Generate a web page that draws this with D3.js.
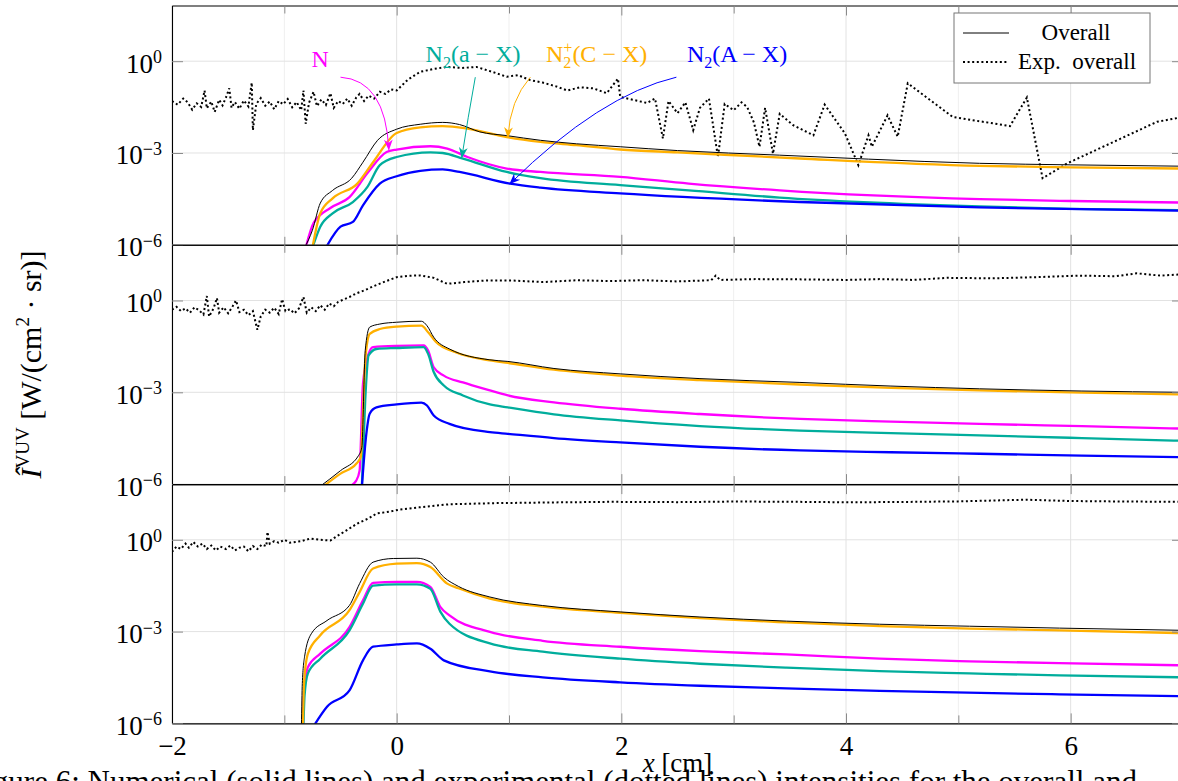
<!DOCTYPE html>
<html>
<head>
<meta charset="utf-8">
<script src="https://cdn.jsdelivr.net/npm/d3@7"></script>
<style>
  body { margin: 0; background: #fff; }
  svg { display: block; font-family: "Liberation Serif", "DejaVu Serif", serif; }
</style>
</head>
<body>
<script>
// ---- axes ----
var xTicks = [-2, -1, 0, 1, 2, 3, 4, 5, 6, 7];
var xLabelled = [-2, 0, 2, 4, 6];
var yTicks = [1e-6, 1e-3, 1];

// ---- top panel: [x (cm), intensity] ----
var topOverall = [[-0.82,8e-7],[-0.75,3.0e-6],[-0.68,2.3e-5],[-0.57,6.0e-5],[-0.40,1.5e-4],[-0.30,5.0e-4],[-0.17,2.6e-3],[0.0,6.0e-3],[0.21,8.7e-3],[0.41,1.0e-2],[0.56,8.5e-3],[0.74,4.9e-3],[0.98,3.7e-3],[1.28,2.6e-3],[1.6,2.0e-3],[1.99,1.6e-3],[2.5,1.2e-3],[3.41,8.5e-4],[4.2,6.3e-4],[5.19,4.6e-4],[6.0,4.1e-4],[7.0,3.7e-4]];
var topN2pC = [[-0.75,8e-7],[-0.68,1.07e-5],[-0.57,3.3e-5],[-0.35,1.0e-4],[-0.21,5.0e-4],[0.0,4.5e-3],[0.21,6.9e-3],[0.41,7.6e-3],[0.63,6.3e-3],[0.98,3.3e-3],[1.28,2.3e-3],[1.6,1.8e-3],[1.99,1.3e-3],[2.5,1.05e-3],[3.59,6.6e-4],[5.19,3.8e-4],[6.0,3.4e-4],[7.0,3.1e-4]];
var topN = [[-0.81,8e-7],[-0.74,5.1e-6],[-0.59,1.6e-5],[-0.42,3.6e-5],[-0.26,2.2e-4],[-0.09,1.07e-3],[0.0,1.3e-3],[0.30,1.66e-3],[0.45,1.4e-3],[0.63,7.4e-4],[0.98,3.1e-4],[1.28,2.4e-4],[1.99,1.66e-4],[2.6,1.0e-4],[3.41,6.0e-5],[5.19,3.1e-5],[6.0,2.7e-5],[7.0,2.4e-5]];
var topN2a = [[-0.75,8e-7],[-0.68,3.9e-6],[-0.57,1.07e-5],[-0.39,2.5e-5],[-0.26,7.8e-5],[-0.15,4.0e-4],[0.0,7.4e-4],[0.30,1.05e-3],[0.41,1.0e-3],[0.59,6.6e-4],[0.98,2.4e-4],[1.28,1.5e-4],[1.99,8.9e-5],[2.6,6.0e-5],[3.41,3.5e-5],[5.19,1.8e-5],[6.0,1.5e-5],[7.0,1.35e-5]];
var topN2A = [[-0.63,8e-7],[-0.50,3.9e-6],[-0.39,5.6e-6],[-0.30,1.95e-5],[-0.15,1.0e-4],[0.0,1.74e-4],[0.21,2.6e-4],[0.41,2.9e-4],[0.56,2.4e-4],[1.01,1.0e-4],[1.28,7.4e-5],[1.99,4.8e-5],[3.59,2.5e-5],[5.19,1.66e-5],[7.0,1.3e-5]];
var topExp = [[-2.00,5.0e-2],[-1.95,3.8e-2],[-1.90,6.0e-2],[-1.86,4.5e-2],[-1.82,2.6e-2],[-1.78,4.2e-2],[-1.74,3.2e-2],[-1.71,0.11],[-1.69,2.9e-2],[-1.65,4.8e-2],[-1.62,2.2e-2],[-1.58,5.5e-2],[-1.55,3.6e-2],[-1.52,6.5e-2],[-1.49,0.13],[-1.47,3.0e-2],[-1.44,4.6e-2],[-1.40,2.8e-2],[-1.36,5.2e-2],[-1.32,3.3e-2],[-1.29,0.2],[-1.28,5.6e-3],[-1.25,4.0e-2],[-1.21,6.2e-2],[-1.17,3.5e-2],[-1.13,4.8e-2],[-1.09,2.7e-2],[-1.05,5.0e-2],[-1.01,3.9e-2],[-0.97,5.8e-2],[-0.93,3.1e-2],[-0.89,4.6e-2],[-0.85,2.5e-2],[-0.83,0.11],[-0.81,9.0e-3],[-0.78,4.4e-2],[-0.74,0.1],[-0.71,3.4e-2],[-0.67,5.6e-2],[-0.63,3.7e-2],[-0.59,0.09],[-0.56,3.0e-2],[-0.52,5.0e-2],[-0.48,4.0e-2],[-0.44,6.0e-2],[-0.40,3.5e-2],[-0.36,6.5e-2],[-0.33,8.5e-2],[-0.29,5.0e-2],[-0.25,7.5e-2],[-0.20,6.0e-2],[-0.15,0.1],[-0.10,0.085],[-0.05,0.12],[0.00,0.11],[0.10,0.25],[0.21,0.45],[0.32,0.55],[0.45,0.65],[0.58,0.6],[0.71,0.65],[0.85,0.45],[0.98,0.31],[1.08,0.35],[1.19,0.24],[1.30,0.2],[1.42,0.15],[1.52,0.11],[1.63,0.14],[1.75,0.13],[1.87,0.09],[1.97,0.27],[1.99,0.068],[2.10,0.055],[2.23,0.043],[2.30,0.06],[2.37,3.0e-3],[2.42,0.05],[2.50,0.02],[2.57,0.045],[2.64,5.6e-3],[2.70,0.03],[2.78,0.06],[2.86,7.4e-4],[2.92,0.04],[3.00,0.025],[3.07,0.045],[3.12,0.032],[3.18,0.01],[3.23,1.6e-3],[3.28,0.03],[3.35,9.5e-4],[3.41,0.019],[3.53,8.1e-3],[3.71,3.8e-3],[3.81,0.038],[3.99,4.4e-3],[4.11,4.0e-4],[4.20,3.8e-3],[4.23,1.6e-3],[4.37,0.017],[4.46,3.4e-3],[4.55,0.19],[4.95,0.015],[5.46,7.6e-3],[5.61,0.065],[5.75,1.5e-4],[5.97,4.6e-4],[6.77,0.0105],[7.00,0.015]];

// ---- middle panel ----
var midOverall = [[-0.69,8e-7],[-0.50,2.75e-6],[-0.34,8.5e-6],[-0.31,1.6e-5],[-0.28,2.3e-2],[-0.24,0.135],[-0.15,0.17],[0.0,0.195],[0.22,0.21],[0.27,0.15],[0.33,0.063],[0.47,0.026],[0.83,0.0115],[0.99,0.0102],[1.4,6.0e-3],[1.99,4.0e-3],[2.7,2.8e-3],[3.59,2.1e-3],[4.4,1.6e-3],[5.19,1.3e-3],[6.1,1.1e-3],[7.0,1.0e-3]];
var midN2pC = [[-0.66,8e-7],[-0.50,2.2e-6],[-0.36,4.6e-6],[-0.32,7.6e-6],[-0.28,0.011],[-0.24,0.081],[-0.15,0.117],[0.0,0.14],[0.22,0.15],[0.28,0.091],[0.35,0.044],[0.53,0.020],[0.83,0.011],[0.99,9.1e-3],[1.4,5.5e-3],[1.99,3.5e-3],[2.7,2.5e-3],[3.59,1.8e-3],[4.4,1.4e-3],[5.19,1.15e-3],[6.1,9.8e-4],[7.0,8.5e-4]];
var midN = [[-0.43,8e-7],[-0.36,1.3e-6],[-0.33,2.75e-6],[-0.30,1.9e-3],[-0.25,0.018],[-0.21,0.030],[0.0,0.033],[0.24,0.034],[0.28,0.023],[0.33,6.6e-3],[0.42,3.5e-3],[0.59,2.1e-3],[0.83,1.15e-3],[0.99,7.9e-4],[1.4,4.7e-4],[1.99,2.9e-4],[2.7,1.95e-4],[3.59,1.35e-4],[4.4,1.1e-4],[5.19,9.3e-5],[6.1,7.8e-5],[7.0,6.5e-5]];
var midN2a = [[-0.31,8e-7],[-0.28,5.4e-4],[-0.25,0.016],[-0.18,0.026],[0.0,0.028],[0.24,0.030],[0.28,0.018],[0.33,4.6e-3],[0.42,1.66e-3],[0.59,7.9e-4],[0.83,4.0e-4],[0.99,3.2e-4],[1.4,1.9e-4],[1.99,1.2e-4],[2.7,7.9e-5],[3.59,5.6e-5],[4.4,4.6e-5],[5.19,3.9e-5],[6.1,3.2e-5],[7.0,2.6e-5]];
var midN2A = [[-0.31,8e-7],[-0.27,4.4e-5],[-0.24,2.0e-4],[-0.18,3.2e-4],[0.0,4.0e-4],[0.22,4.6e-4],[0.27,3.7e-4],[0.33,1.74e-4],[0.47,9.3e-5],[0.83,5.0e-5],[0.99,4.4e-5],[1.4,3.2e-5],[1.99,2.3e-5],[2.7,1.66e-5],[3.59,1.26e-5],[4.4,1.1e-5],[5.19,9.8e-6],[6.1,8.5e-6],[7.0,7.6e-6]];
var midExp = [[-2.00,0.5],[-1.96,0.62],[-1.92,0.45],[-1.88,0.55],[-1.84,0.4],[-1.80,0.6],[-1.76,0.48],[-1.72,0.35],[-1.69,1.4],[-1.67,0.3],[-1.63,0.55],[-1.60,1.2],[-1.58,0.4],[-1.54,0.6],[-1.50,0.38],[-1.46,0.65],[-1.43,1.0],[-1.40,0.42],[-1.36,0.5],[-1.32,0.33],[-1.28,0.45],[-1.24,0.11],[-1.21,0.3],[-1.17,0.5],[-1.13,0.4],[-1.09,0.58],[-1.05,0.36],[-1.02,1.1],[-0.99,0.45],[-0.95,0.52],[-0.91,0.38],[-0.87,0.55],[-0.83,1.3],[-0.80,0.4],[-0.76,0.6],[-0.72,0.45],[-0.68,0.7],[-0.64,0.5],[-0.60,0.8],[-0.56,0.65],[-0.52,0.9],[-0.48,1.05],[-0.42,1.3],[-0.36,1.7],[-0.28,2.2],[-0.20,3.0],[-0.10,4.2],[0.00,5.8],[0.10,6.4],[0.21,6.6],[0.33,5.5],[0.45,3.5],[0.60,4.0],[0.80,4.5],[1.03,4.5],[1.30,4.0],[1.60,4.6],[1.90,4.3],[2.20,4.6],[2.50,4.2],[2.80,4.6],[2.84,6.5],[2.88,4.7],[3.20,5.0],[3.59,4.9],[4.00,4.7],[4.30,5.0],[4.60,4.7],[4.90,5.5],[5.30,5.3],[5.70,5.8],[6.08,6.5],[6.40,6.2],[6.59,7.7],[6.80,6.5],[7.00,7.2]];

// ---- bottom panel ----
var botOverall = [[-0.848,8e-7],[-0.84,2.0e-5],[-0.82,1.5e-4],[-0.76,8.5e-4],[-0.62,2.3e-3],[-0.42,7.2e-3],[-0.33,0.037],[-0.21,0.186],[-0.03,0.245],[0.18,0.25],[0.30,0.186],[0.42,0.060],[0.55,0.030],[0.83,0.0135],[1.3,7.1e-3],[1.99,4.4e-3],[2.7,3.0e-3],[3.47,2.2e-3],[4.30,1.74e-3],[5.1,1.5e-3],[5.90,1.3e-3],[7.0,1.1e-3]];
var botN2pC = [[-0.835,8e-7],[-0.825,2.0e-5],[-0.79,1.9e-4],[-0.68,7.6e-4],[-0.42,5.0e-3],[-0.33,0.0195],[-0.21,0.115],[0.0,0.166],[0.18,0.174],[0.30,0.129],[0.45,0.037],[0.55,0.026],[0.83,0.012],[1.3,6.5e-3],[1.99,4.1e-3],[2.7,2.75e-3],[3.47,2.0e-3],[4.30,1.5e-3],[5.1,1.26e-3],[5.90,1.1e-3],[7.0,8.9e-4]];
var botN = [[-0.835,8e-7],[-0.825,1.0e-5],[-0.79,6.9e-5],[-0.68,1.9e-4],[-0.42,1.4e-3],[-0.30,0.0105],[-0.21,0.039],[0.0,0.042],[0.18,0.042],[0.30,0.029],[0.39,6.3e-3],[0.47,3.4e-3],[0.83,9.8e-4],[1.3,5.0e-4],[1.99,3.2e-4],[2.7,2.3e-4],[3.47,1.8e-4],[4.30,1.3e-4],[5.1,1.07e-4],[5.90,9.3e-5],[7.0,7.9e-5]];
var botN2a = [[-0.83,8e-7],[-0.82,8e-6],[-0.79,4.3e-5],[-0.68,1.3e-4],[-0.42,1.1e-3],[-0.30,8.1e-3],[-0.21,0.032],[0.0,0.035],[0.18,0.035],[0.30,0.025],[0.39,4.4e-3],[0.47,1.8e-3],[0.83,4.1e-4],[1.3,2.2e-4],[1.99,1.3e-4],[2.7,8.9e-5],[3.47,6.6e-5],[4.30,5.1e-5],[5.1,4.3e-5],[5.90,3.7e-5],[7.0,3.2e-5]];
var botN2A = [[-0.74,8e-7],[-0.62,3.5e-6],[-0.42,1.2e-5],[-0.30,1.15e-4],[-0.21,3.2e-4],[0.0,3.8e-4],[0.18,4.1e-4],[0.30,2.75e-4],[0.42,1.15e-4],[0.83,5.0e-5],[1.3,3.2e-5],[1.99,2.2e-5],[2.7,1.7e-5],[3.47,1.4e-5],[4.30,1.15e-5],[5.90,8.9e-6],[7.0,7.8e-6]];
var botExp = [[-2.00,0.4],[-1.96,0.6],[-1.92,0.5],[-1.88,0.75],[-1.85,0.55],[-1.81,0.85],[-1.77,0.6],[-1.73,0.75],[-1.69,0.5],[-1.65,0.65],[-1.61,0.45],[-1.57,0.6],[-1.52,0.5],[-1.48,0.65],[-1.44,0.45],[-1.40,0.55],[-1.36,0.6],[-1.32,0.42],[-1.28,0.62],[-1.24,0.5],[-1.20,0.7],[-1.16,0.62],[-1.15,1.8],[-1.13,0.75],[-1.09,0.9],[-1.05,0.8],[-1.00,1.0],[-0.95,0.8],[-0.90,0.85],[-0.85,0.9],[-0.77,1.1],[-0.68,1.0],[-0.59,0.95],[-0.52,1.4],[-0.45,2.0],[-0.35,3.4],[-0.25,5.0],[-0.18,7.2],[-0.05,8.5],[0.03,9.8],[0.20,11.5],[0.47,14.5],[0.89,15.8],[1.3,16.5],[1.9,17.4],[2.5,17.0],[3.0,17.8],[3.5,17.5],[4.0,16.8],[4.5,17.2],[5.0,18.0],[5.6,20.4],[6.0,18.5],[6.5,17.8],[7.0,17.4]];

var seriesNames = ["N", "N2(a-X)", "N2(A-X)", "N2+(C-X)", "Overall"];
var seriesColors = ["#ff00ff", "#00ad9c", "#0000ff", "#ffb000", "#000000"];
var seriesWidths = [2.3, 2.3, 2.3, 2.3, 1];

var panels = [
  {sim: [topN, topN2a, topN2A, topN2pC, topOverall], exp: topExp},
  {sim: [midN, midN2a, midN2A, midN2pC, midOverall], exp: midExp},
  {sim: [botN, botN2a, botN2A, botN2pC, botOverall], exp: botExp}
];

// annotations on the top panel: label anchor, arrow start, control, end
var annotations = [
  {color: "#ff00ff", label: [["N", ""]], at: [-0.68, 0.63], path: [[-0.50, 0.30], [-0.10, 0.24], [-0.07, 1.3e-3]]},
  {color: "#00ad9c", label: [["N", ""], ["2", "sub"], ["(a \u2212 X)", ""]], at: [0.68, 0.93], path: [[0.70, 0.30], [0.635, 0.0148], [0.58, 7.2e-4]]},
  {color: "#ffb000", label: [["N", ""], ["2", "sub"], ["+", "sup"], ["(C \u2212 X)", ""]], at: [1.78, 0.93], path: [[1.19, 0.30], [1.01, 0.054], [0.99, 3.3e-3]]},
  {color: "#0000ff", label: [["N", ""], ["2", "sub"], ["(A \u2212 X)", ""]], at: [3.03, 0.93], path: [[2.49, 0.30], [1.81, 0.078], [1.01, 1.0e-4]]}
];

var W = 1178, H = 781;
var left = 172, right = 1183, panelH = 239.3;
var tops = [5.5, 244.8, 484.1];

var svg = d3.select("body").append("svg").attr("width", W).attr("height", H);
var defs = svg.append("defs");

var x = d3.scaleLinear().domain([-2, 7]).range([left, right]);
var yMax = Math.pow(10, 1.82);

function supText(sel, base, exp, size) {
  sel.append("tspan").text(base);
  sel.append("tspan").attr("dy", -9.5).attr("font-size", size).text(exp);
}

panels.forEach(function (p, i) {
  var top = tops[i];
  var y = d3.scaleLog().domain([1e-6, yMax]).range([top + panelH, top]);
  var g = svg.append("g");

  defs.append("clipPath").attr("id", "clip" + i)
    .append("rect").attr("x", left).attr("y", top).attr("width", right - left).attr("height", panelH);

  // grid
  g.selectAll("line.vgrid").data(xTicks).enter().append("line")
    .attr("x1", function (d) { return x(d); }).attr("x2", function (d) { return x(d); })
    .attr("y1", top).attr("y2", top + panelH)
    .attr("stroke", function (d) { return d % 2 === 0 ? "#e2e2e2" : "#efefef"; })
    .attr("stroke-width", 1);
  g.selectAll("line.hgrid").data(yTicks).enter().append("line")
    .attr("x1", left).attr("x2", right)
    .attr("y1", function (d) { return y(d); }).attr("y2", function (d) { return y(d); })
    .attr("stroke", "#e2e2e2").attr("stroke-width", 1);

  var plot = g.append("g").attr("clip-path", "url(#clip" + i + ")");

  var expLine = d3.line().x(function (d) { return x(d[0]); }).y(function (d) { return y(d[1]); });
  plot.append("path").datum(p.exp)
    .attr("d", expLine)
    .attr("fill", "none").attr("stroke", "#000").attr("stroke-width", 2)
    .attr("stroke-dasharray", "2,2.6");

  var simLine = d3.line().x(function (d) { return x(d[0]); }).y(function (d) { return y(d[1]); })
    .curve(d3.curveMonotoneX);
  p.sim.forEach(function (s, k) {
    plot.append("path").datum(s)
      .attr("d", simLine)
      .attr("fill", "none").attr("stroke", seriesColors[k])
      .attr("stroke-width", seriesWidths[k]).attr("stroke-linejoin", "round");
  });

  // axes (ticks inward)
  var bottomAxis = d3.axisBottom(x).tickValues(xTicks).tickSizeInner(-10).tickSizeOuter(0).tickPadding(12)
    .tickFormat(function (d) { return (i === 2 && xLabelled.indexOf(d) >= 0) ? (d < 0 ? "\u2212" + (-d) : d) : ""; });
  var topAxis = d3.axisTop(x).tickValues(xTicks).tickSizeInner(-10).tickSizeOuter(0).tickFormat("");
  var leftAxis = d3.axisLeft(y).tickValues(yTicks).tickSizeInner(-11).tickSizeOuter(0).tickFormat("");
  var rightAxis = d3.axisRight(y).tickValues(yTicks).tickSizeInner(-11).tickSizeOuter(0).tickFormat("");

  var axes = [
    g.append("g").attr("transform", "translate(0," + (top + panelH) + ")").call(bottomAxis),
    g.append("g").attr("transform", "translate(0," + top + ")").call(topAxis),
    g.append("g").attr("transform", "translate(" + left + ",0)").call(leftAxis),
    g.append("g").attr("transform", "translate(" + right + ",0)").call(rightAxis)
  ];
  axes.forEach(function (a) {
    a.select(".domain").attr("stroke", "#000").attr("stroke-width", 1.1);
    a.selectAll(".tick line").attr("stroke", "#8a8a8a").attr("stroke-width", 1);
    a.selectAll(".tick text").attr("font-family", "Liberation Serif, serif").attr("font-size", 27).attr("fill", "#000");
  });
  // shorter minor ticks at odd x
  axes[0].selectAll(".tick line").filter(function (d) { return d % 2 !== 0; }).attr("y2", -8);
  axes[1].selectAll(".tick line").filter(function (d) { return d % 2 !== 0; }).attr("y2", 8);

  // y tick labels 10^n
  yTicks.forEach(function (v) {
    var e = Math.round(Math.log10(v));
    var t = g.append("text").attr("x", left - 10).attr("y", y(v) + 11.5)
      .attr("text-anchor", "end").attr("font-size", 27);
    supText(t, "10", e < 0 ? "\u2212" + (-e) : "" + e, 18);
  });

  if (i === 0) {
    // annotations with arrows
    annotations.forEach(function (a, k) {
      var id = "arrow" + k;
      defs.append("marker").attr("id", id).attr("viewBox", "0 0 10 10")
        .attr("refX", 9).attr("refY", 5).attr("markerUnits", "userSpaceOnUse")
        .attr("markerWidth", 11).attr("markerHeight", 11).attr("orient", "auto")
        .append("path").attr("d", "M0,1 L10,5 L0,9 L3,5 Z").attr("fill", a.color);
      var pth = d3.path();
      pth.moveTo(x(a.path[0][0]), y(a.path[0][1]));
      pth.quadraticCurveTo(x(a.path[1][0]), y(a.path[1][1]), x(a.path[2][0]), y(a.path[2][1]));
      g.append("path").attr("d", pth.toString()).attr("fill", "none")
        .attr("stroke", a.color).attr("stroke-width", 1).attr("marker-end", "url(#" + id + ")");

      var t = g.append("text").attr("x", x(a.at[0])).attr("y", y(a.at[1]))
        .attr("text-anchor", "middle").attr("font-size", 24).attr("fill", a.color);
      var shift = 0;
      a.label.forEach(function (part) {
        var ts = t.append("tspan").text(part[0]);
        if (part[1] === "sub") { ts.attr("font-size", 16).attr("dy", 6); shift = 6; }
        else if (part[1] === "sup") { ts.attr("font-size", 16).attr("dx", -8).attr("dy", -15); shift = -9; }
        else if (shift !== 0) { ts.attr("dy", -shift); shift = 0; }
      });
    });

    // legend
    var lg = g.append("g");
    lg.append("rect").attr("x", 954).attr("y", 13).attr("width", 196).attr("height", 70)
      .attr("fill", "#fff").attr("stroke", "#777").attr("stroke-width", 1);
    lg.append("line").attr("x1", 963).attr("x2", 1009).attr("y1", 33).attr("y2", 33)
      .attr("stroke", "#000").attr("stroke-width", 1);
    lg.append("text").attr("x", 1076).attr("y", 40).attr("text-anchor", "middle")
      .attr("font-size", 23).text("Overall");
    lg.append("line").attr("x1", 963).attr("x2", 1009).attr("y1", 62).attr("y2", 62)
      .attr("stroke", "#000").attr("stroke-width", 2).attr("stroke-dasharray", "2,2.6");
    lg.append("text").attr("x", 1077).attr("y", 69).attr("text-anchor", "middle")
      .attr("font-size", 23).attr("xml:space", "preserve").text("Exp.  overall");
  }
});

// axis titles
var xt = svg.append("text").attr("x", (left + right) / 2).attr("y", 772)
  .attr("text-anchor", "middle").attr("font-size", 27);
xt.append("tspan").attr("font-style", "italic").text("x");
xt.append("tspan").text(" [cm]");

var yt = svg.append("text").attr("transform", "translate(41," + (tops[0] + 1.5 * panelH) + ") rotate(-90)")
  .attr("text-anchor", "middle").attr("font-size", 30);
yt.append("tspan").attr("font-style", "italic").text("\u00CE");
yt.append("tspan").attr("font-size", 19).attr("dy", -12).text("VUV");
yt.append("tspan").attr("dy", 12).text(" [W/(cm");
yt.append("tspan").attr("font-size", 19).attr("dy", -12).text("2");
yt.append("tspan").attr("dy", 12).text(" \u00B7 sr)]");

// caption, cut off by the page edge
svg.append("text").attr("x", -33).attr("y", 792).attr("font-size", 31)
  .text("Figure 6: Numerical (solid lines) and experimental (dotted lines) intensities for the overall and");
</script>
</body>
</html>
